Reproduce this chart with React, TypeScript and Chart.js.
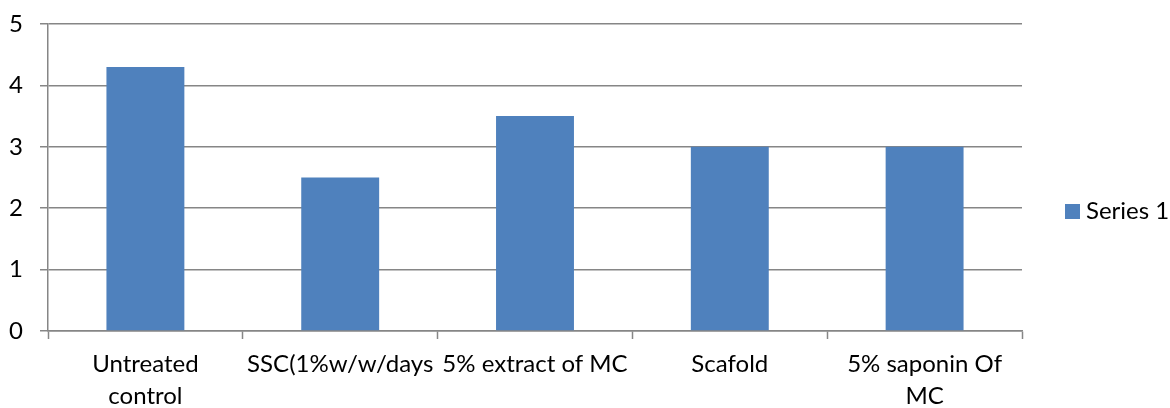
import React, { useEffect, useRef } from "react";
import { Chart, registerables } from "chart.js";

Chart.register(...registerables);

const categories: (string | string[])[] = [
  ["Untreated", "control"],
  "SSC(1%w/w/days",
  "5% extract of MC",
  "Scafold",
  ["5% saponin Of", "MC"],
];
const seriesName = "Series 1";
const seriesValues = [4.3, 2.5, 3.5, 3.0, 3.0];
const yTicks = [0, 1, 2, 3, 4, 5];

const FONT = "Lato, 'Open Sans', sans-serif";
const FONT_SIZE = 24;
const AXIS_GRAY = "#868686";
const BAR_BLUE = "#4F81BD";

// Single-entry key drawn to the right of the plot, a little below its middle.
const seriesKey = {
  id: "seriesKey",
  afterDraw(chart: any) {
    const { ctx, chartArea } = chart;
    const ds = chart.data.datasets[0];
    const box = 15;
    const x = chartArea.right + 43;
    const cy = (chartArea.top + chartArea.bottom) / 2 + 34;
    ctx.save();
    ctx.fillStyle = ds.backgroundColor;
    ctx.fillRect(x, cy - box / 2, box, box);
    ctx.fillStyle = "#000";
    ctx.font = `${FONT_SIZE}px ${FONT}`;
    ctx.textAlign = "left";
    ctx.textBaseline = "middle";
    ctx.fillText(ds.label, x + box + 6, cy);
    ctx.restore();
  },
};

export default function App() {
  const canvasRef = useRef<HTMLCanvasElement | null>(null);

  useEffect(() => {
    document.body.style.margin = "0";
    const canvas = canvasRef.current;
    if (!canvas) return;
    const chart = new Chart(canvas, {
      type: "bar",
      data: {
        labels: categories,
        datasets: [
          {
            label: seriesName,
            data: seriesValues,
            backgroundColor: BAR_BLUE,
            borderWidth: 0,
            categoryPercentage: 0.8,
            barPercentage: 0.5,
          },
        ],
      },
      plugins: [seriesKey],
      options: {
        animation: false,
        responsive: false,
        maintainAspectRatio: false,
        layout: { padding: { top: 24, left: 0, right: 148, bottom: 0 } },
        plugins: {
          tooltip: { enabled: false },
          legend: { display: false },
        },
        scales: {
          x: {
            offset: true,
            afterFit: (scale: any) => {
              scale.height = 77;
            },
            grid: {
              offset: true,
              drawOnChartArea: false,
              color: AXIS_GRAY,
              tickLength: 8,
              tickWidth: 1.5,
            },
            border: { color: AXIS_GRAY, width: 1.5 },
            ticks: {
              color: "#000",
              font: { family: FONT, size: FONT_SIZE, lineHeight: 1.33 },
              maxRotation: 0,
              autoSkip: false,
              padding: 9,
            },
          },
          y: {
            min: yTicks[0],
            max: yTicks[yTicks.length - 1],
            afterBuildTicks: (scale: any) => {
              scale.ticks = yTicks.map((v) => ({ value: v }));
            },
            afterFit: (scale: any) => {
              scale.width = 48;
              scale.paddingTop = 0;
              scale.paddingBottom = 0;
            },
            grid: {
              color: AXIS_GRAY,
              lineWidth: 1.5,
              tickLength: 8,
            },
            border: { color: AXIS_GRAY, width: 1.5 },
            ticks: {
              color: "#000",
              font: { family: FONT, size: FONT_SIZE },
              padding: 17,
            },
          },
        },
      },
    });
    return () => chart.destroy();
  }, []);

  return (
    <div style={{ position: "absolute", left: 0, top: 0, width: 1170, height: 408, background: "#fff" }}>
      <canvas ref={canvasRef} width={1170} height={408} />
    </div>
  );
}
